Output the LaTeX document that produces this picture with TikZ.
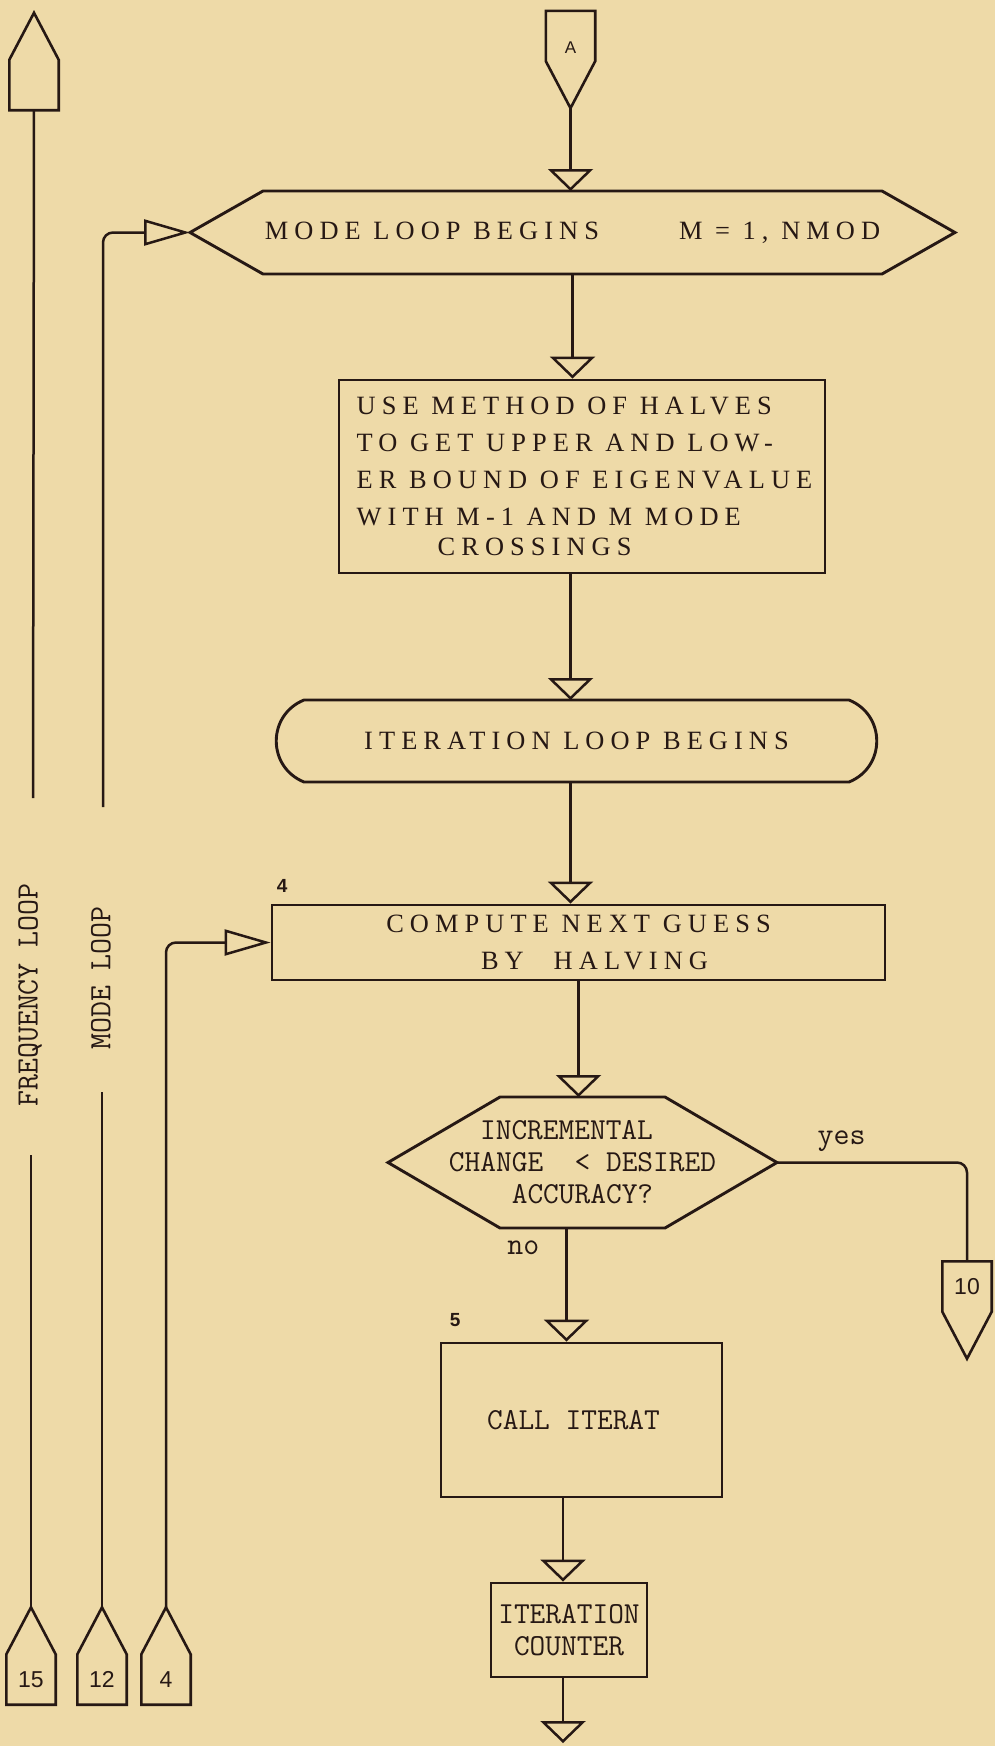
\documentclass[tikz,border=0pt]{standalone}
\usepackage{fontspec}
\usepackage{tikz}
\usetikzlibrary{arrows.meta, calc, positioning}
\newfontfamily\typeserif[LetterSpace=23]{Liberation Serif}
\newfontfamily\labelsans{Liberation Sans}
\definecolor{paper}{RGB}{238,218,168}
\definecolor{ink}{RGB}{38,24,20}

% off-page connectors: rectangle part is the node, the point is drawn below/above it
\newcommand{\offdown}[5][]{%
  \node[conn,#1] (#2) at (#3,#4) {#5};
  \draw[connline] (#2.south west) -- (#2.north west) -- (#2.north east) -- (#2.south east)
    -- ($(#2.south)+(0,47)$) coordinate (#2-tip) -- cycle;
}
\newcommand{\offup}[5][]{%
  \node[conn,#1] (#2) at (#3,#4) {#5};
  \draw[connline] (#2.north west) -- (#2.south west) -- (#2.south east) -- (#2.north east)
    -- ($(#2.north)+(0,-47)$) coordinate (#2-tip) -- cycle;
}
\newcommand{\hexline}[2]{%
  \draw[box] (#1.west) -- ($(#1.north west)+(#2,0)$) -- ($(#1.north east)+(-#2,0)$) -- (#1.east)
    -- ($(#1.south east)+(-#2,0)$) -- ($(#1.south west)+(#2,0)$) -- cycle;
}

\begin{document}
\begin{tikzpicture}[x=1pt, y=-1pt, text=ink,
  flow/.style={draw=ink, line width=2.5pt},
  dnarr/.style={-{Triangle[open, length=22pt, width=45pt]}},
  sidearr/.style={-{Triangle[open, length=46pt, width=26pt]}},
  box/.style={draw=ink, line width=2.9pt, inner sep=0pt},
  ghost/.style={inner sep=0pt, outer sep=0pt},
  conn/.style={inner sep=0pt, minimum width=49pt, minimum height=50pt, font=\labelsans\fontsize{23}{23}\selectfont},
  connline/.style={draw=ink, line width=2.6pt},
  upfont/.style={font=\typeserif\fontsize{26.4}{37}\selectfont},
  typefont/.style={font=\ttfamily\fontsize{30.5}{32}\selectfont},
  lbl/.style={inner sep=0pt, font=\ttfamily\fontsize{31}{31}\selectfont},
  numlbl/.style={inner sep=0pt, font=\labelsans\bfseries\fontsize{19}{19}\selectfont}]

  \fill[paper] (0,0) rectangle (995,1746);
  \useasboundingbox (0,0) rectangle (995,1746);

  % connectors off the page
  \offup{freqtop}{34}{85}{}
  \offdown[font=\labelsans\fontsize{17}{17}\selectfont, text height=34pt]{A}{570.5}{36}{A}
  \offdown{ten}{967}{1286.5}{10}
  \foreach \nm/\x/\lbl in {fifteen/31/15, twelve/102/12, four/166/4} {
    \offup{\nm}{\x}{1679.5}{\lbl}
  }

  % flow chart
  \node[ghost, upfont, minimum width=765pt, minimum height=83pt] (loopM) at (572.5,232.5)
    {MODE LOOP BEGINS\hspace{80pt}M = 1, NMOD};
  \hexline{loopM}{73}

  \node[box, upfont, align=left, minimum width=486pt, minimum height=193pt] (usem) at (582,476.5)
    {\hspace*{5pt}USE METHOD OF HALVES\\\hspace*{5pt}TO GET UPPER AND LOW-\\\hspace*{5pt}ER BOUND OF EIGENVALUE\\\hspace*{5pt}WITH M-1 AND M MODE\\[-7pt]\hspace*{86pt}CROSSINGS};

  \node[ghost, upfont, minimum width=545pt, minimum height=82pt] (iterL) at (576.5,741) {ITERATION LOOP BEGINS};
  \draw[box] (iterL.north west) -- (iterL.north east)
    .. controls ($(iterL.north east)+(37,15)$) and ($(iterL.south east)+(37,-15)$) .. (iterL.south east)
    -- (iterL.south west)
    .. controls ($(iterL.south west)+(-37,-15)$) and ($(iterL.north west)+(-37,15)$) .. (iterL.north west) -- cycle;

  \node[box, upfont, align=center, minimum width=613pt, minimum height=75pt,
    label={[numlbl, anchor=south west, xshift=6pt, yshift=11pt]north west:4}] (compute) at (578.5,942.5)
    {COMPUTE NEXT GUESS\\\hspace*{32pt}BY\hspace{30pt}HALVING};

  \node[ghost, typefont, align=center, minimum width=389pt, minimum height=131pt] (decide) at (582.5,1162.5)
    {INCREMENTAL\hspace*{32pt}\\CHANGE~~< DESIRED\\ACCURACY?};
  \hexline{decide}{112}

  \node[box, typefont, minimum width=281pt, minimum height=154pt,
    label={[numlbl, anchor=south west, xshift=10pt, yshift=15pt]north west:5}] (call) at (581.5,1420)
    {CALL ITERAT\hspace*{16pt}};

  \node[box, typefont, align=center, minimum width=156pt, minimum height=94pt] (counter) at (569,1630) {ITERATION\\COUNTER};

  % loop labels
  \node[lbl, rotate=90] (freqlbl) at (30,995) {FREQUENCY LOOP};
  \node[lbl, rotate=90] (modelbl) at (101,978) {MODE LOOP};

  \coordinate (fgapT) at (33,798);
  \coordinate (fgapB) at (31,1155);
  \coordinate (mgapT) at (103,807);
  \coordinate (mgapB) at (102,1092);
  \coordinate (tail) at (563,1743);

  \draw[flow, dnarr] (A-tip) -- (A-tip |- loopM.north);
  \draw[flow, dnarr] (loopM.south) -- (loopM.south |- usem.north);
  \draw[flow, dnarr] (usem.south -| A-tip) -- (iterL.north -| A-tip);
  \draw[flow, dnarr] (iterL.south -| A-tip) -- (compute.north -| A-tip);
  \draw[flow, dnarr] (compute.south) -- (compute.south |- decide.north);
  \draw[flow, dnarr] ([xshift=-16pt]decide.south) -- ([xshift=-16pt]decide.south |- call.north)
    node[lbl, pos=0.17, left=26pt] {no};
  \draw[flow, dnarr] ([xshift=-18.5pt]call.south) -- ([xshift=-18.5pt]call.south |- counter.north);
  \draw[flow, dnarr] (counter.south -| tail) -- (tail);
  \draw[flow, rounded corners=10pt] (decide.east) -| (ten.north)
    node[lbl, pos=0.17, above=10pt] {yes};

  \draw[flow] (fifteen-tip) -- (fgapB);
  \draw[flow] (fgapT) -- (freqtop.south);
  \draw[flow] (twelve-tip) -- (mgapB);
  \draw[flow, sidearr, rounded corners=10pt] (mgapT) |- (loopM.west);
  \draw[flow, sidearr, rounded corners=10pt] (four-tip) |- (compute.west);
\end{tikzpicture}
\end{document}
